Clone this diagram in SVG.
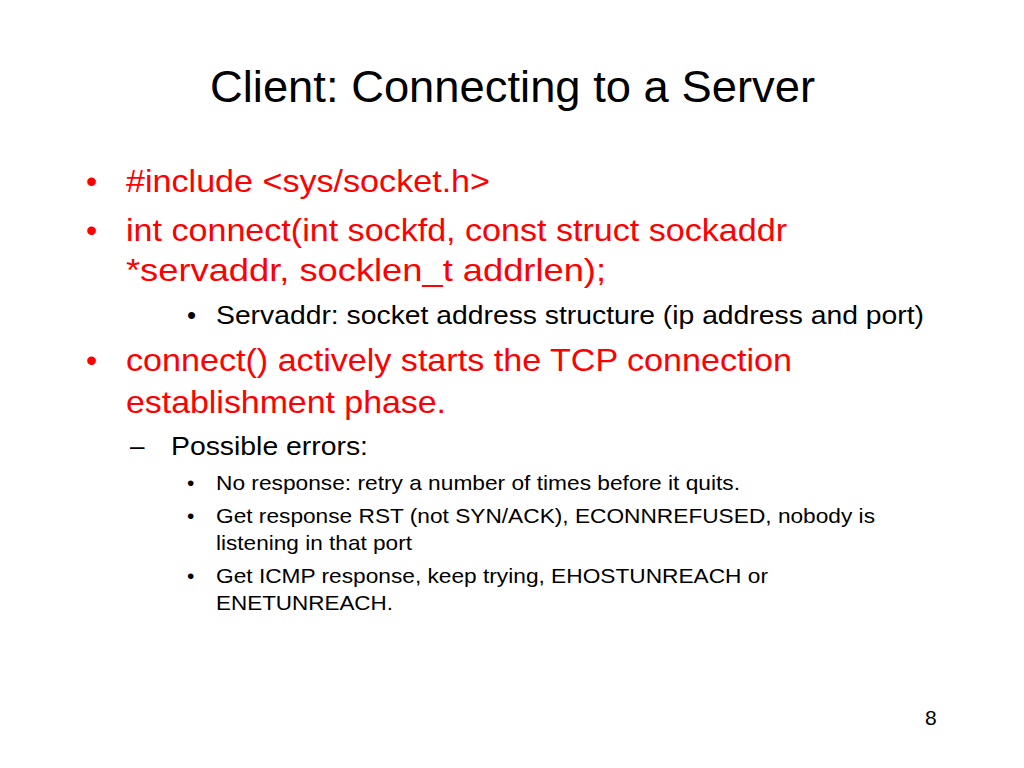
<svg xmlns="http://www.w3.org/2000/svg" width="1024" height="768" viewBox="0 0 1024 768">
<style>
text{font-family:"Liberation Sans",Arial,sans-serif}
.r{fill:#ff0000;font-size:32px}
.k{fill:#000;font-size:26px}
.s{fill:#000;font-size:21px}
</style>
<rect width="1024" height="768" fill="#fff"/>
<text x="210" y="102" font-size="44" textLength="605" lengthAdjust="spacingAndGlyphs">Client: Connecting to a Server</text>
<g class="r">
<text x="86" y="192">•</text><text x="126" y="192" textLength="364" lengthAdjust="spacingAndGlyphs">#include &lt;sys/socket.h&gt;</text>
<text x="86" y="241">•</text><text x="126" y="241" textLength="661" lengthAdjust="spacingAndGlyphs">int connect(int sockfd, const struct sockaddr</text>
<text x="126" y="281" textLength="480" lengthAdjust="spacingAndGlyphs">*servaddr, socklen_t addrlen);</text>
<text x="86" y="371">•</text><text x="126" y="371" textLength="666" lengthAdjust="spacingAndGlyphs">connect() actively starts the TCP connection</text>
<text x="126" y="413" textLength="320" lengthAdjust="spacingAndGlyphs">establishment phase.</text>
</g>
<text class="k" x="187" y="324">•</text><text class="k" x="216" y="324" textLength="708" lengthAdjust="spacingAndGlyphs">Servaddr: socket address structure (ip address and port)</text>
<text class="k" x="130" y="455">–</text><text class="k" x="171" y="455" textLength="197" lengthAdjust="spacingAndGlyphs">Possible errors:</text>
<g class="s">
<text x="187" y="490">•</text><text x="216" y="490" textLength="524" lengthAdjust="spacingAndGlyphs">No response: retry a number of times before it quits.</text>
<text x="187" y="523">•</text><text x="216" y="523" textLength="659" lengthAdjust="spacingAndGlyphs">Get response RST (not SYN/ACK), ECONNREFUSED, nobody is</text>
<text x="216" y="550" textLength="196" lengthAdjust="spacingAndGlyphs">listening in that port</text>
<text x="187" y="583">•</text><text x="216" y="583" textLength="552" lengthAdjust="spacingAndGlyphs">Get ICMP response, keep trying, EHOSTUNREACH or</text>
<text x="216" y="610" textLength="177" lengthAdjust="spacingAndGlyphs">ENETUNREACH.</text>
<text x="925" y="725">8</text>
</g>
</svg>
